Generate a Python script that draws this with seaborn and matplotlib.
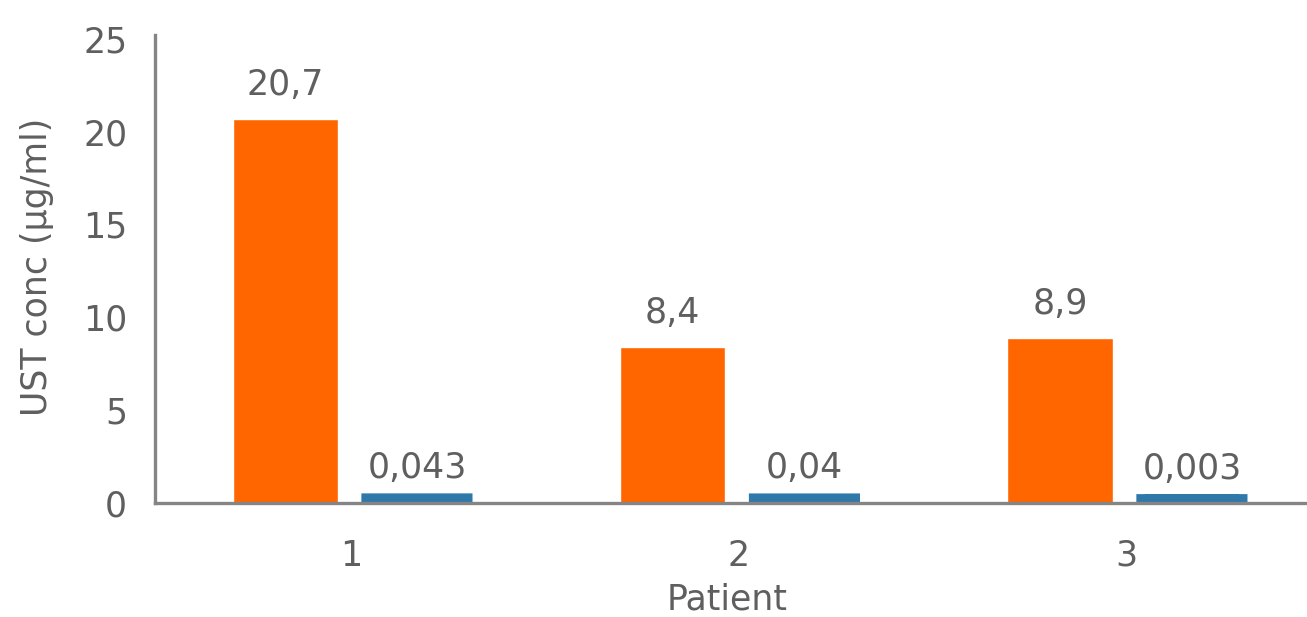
import matplotlib
matplotlib.use("Agg")
import matplotlib.pyplot as plt
import seaborn as sns
import pandas as pd

# Ustekinumab concentrations per patient: serum vs. second sample
patients = ["1", "2", "3"]
serum = [20.7, 8.4, 8.9]
other = [0.043, 0.04, 0.003]
series_names = ["Serum", "Other"]
colors = ["#FF6600", "#2E78AA"]
y_ticks = [0, 5, 10, 15, 20, 25]

df = pd.DataFrame({
    "Patient": patients * 2,
    "conc": serum + other,
    "Sample": [series_names[0]] * 3 + [series_names[1]] * 3,
})

sns.set_theme(style="white")
plt.rcParams["font.family"] = ["DejaVu Sans"]
plt.rcParams["path.simplify"] = False
text_color = "#5F5F5F"
axis_color = "#858585"
fs = 25

fig = plt.figure(figsize=(13.07, 6.17), dpi=100)
ax = fig.add_axes([0.1186, 0.185, 0.8814, 0.758])

sns.barplot(data=df, x="Patient", y="conc", hue="Sample",
            palette=colors, width=0.68, gap=0.2, legend=False,
            saturation=1, ax=ax)

# The tiny second-sample values get a thick outline so they stay visible
n = len(patients)
for p in ax.patches[n:2 * n]:
    p.set_snap(False)
    p.set_edgecolor(colors[1])
    p.set_linewidth(12.5)
    p.set_joinstyle("miter")
    shrink = 0.03
    p.set_x(p.get_x() + shrink / 2)
    p.set_width(p.get_width() - shrink)

# Value labels with decimal comma
for container in ax.containers:
    labels = [f"{v:g}".replace(".", ",") for v in container.datavalues]
    ax.bar_label(container, labels=labels, padding=12, fontsize=fs,
                 color=text_color)

ax.set_ylim(0, 25.2)
ax.set_xlim(-0.506, 2.467)
ax.set_yticks(y_ticks)
ax.set_yticklabels([str(t) for t in y_ticks])

for side in ["top", "right"]:
    ax.spines[side].set_visible(False)
for side in ["left", "bottom"]:
    ax.spines[side].set_color(axis_color)
    ax.spines[side].set_linewidth(2.4)

ax.tick_params(axis="both", length=0, labelsize=fs, labelcolor=text_color)
ax.tick_params(axis="y", pad=20)
ax.tick_params(axis="x", pad=26)

ax.set_xlabel("Patient", fontsize=fs, color=text_color)
ax.set_ylabel("UST conc (µg/ml)", fontsize=fs, color=text_color)
ax.xaxis.set_label_coords(0.4965, -0.17)
ax.yaxis.set_label_coords(-0.088, 0.505)

fig.savefig("out.png", dpi=100, facecolor="white")
